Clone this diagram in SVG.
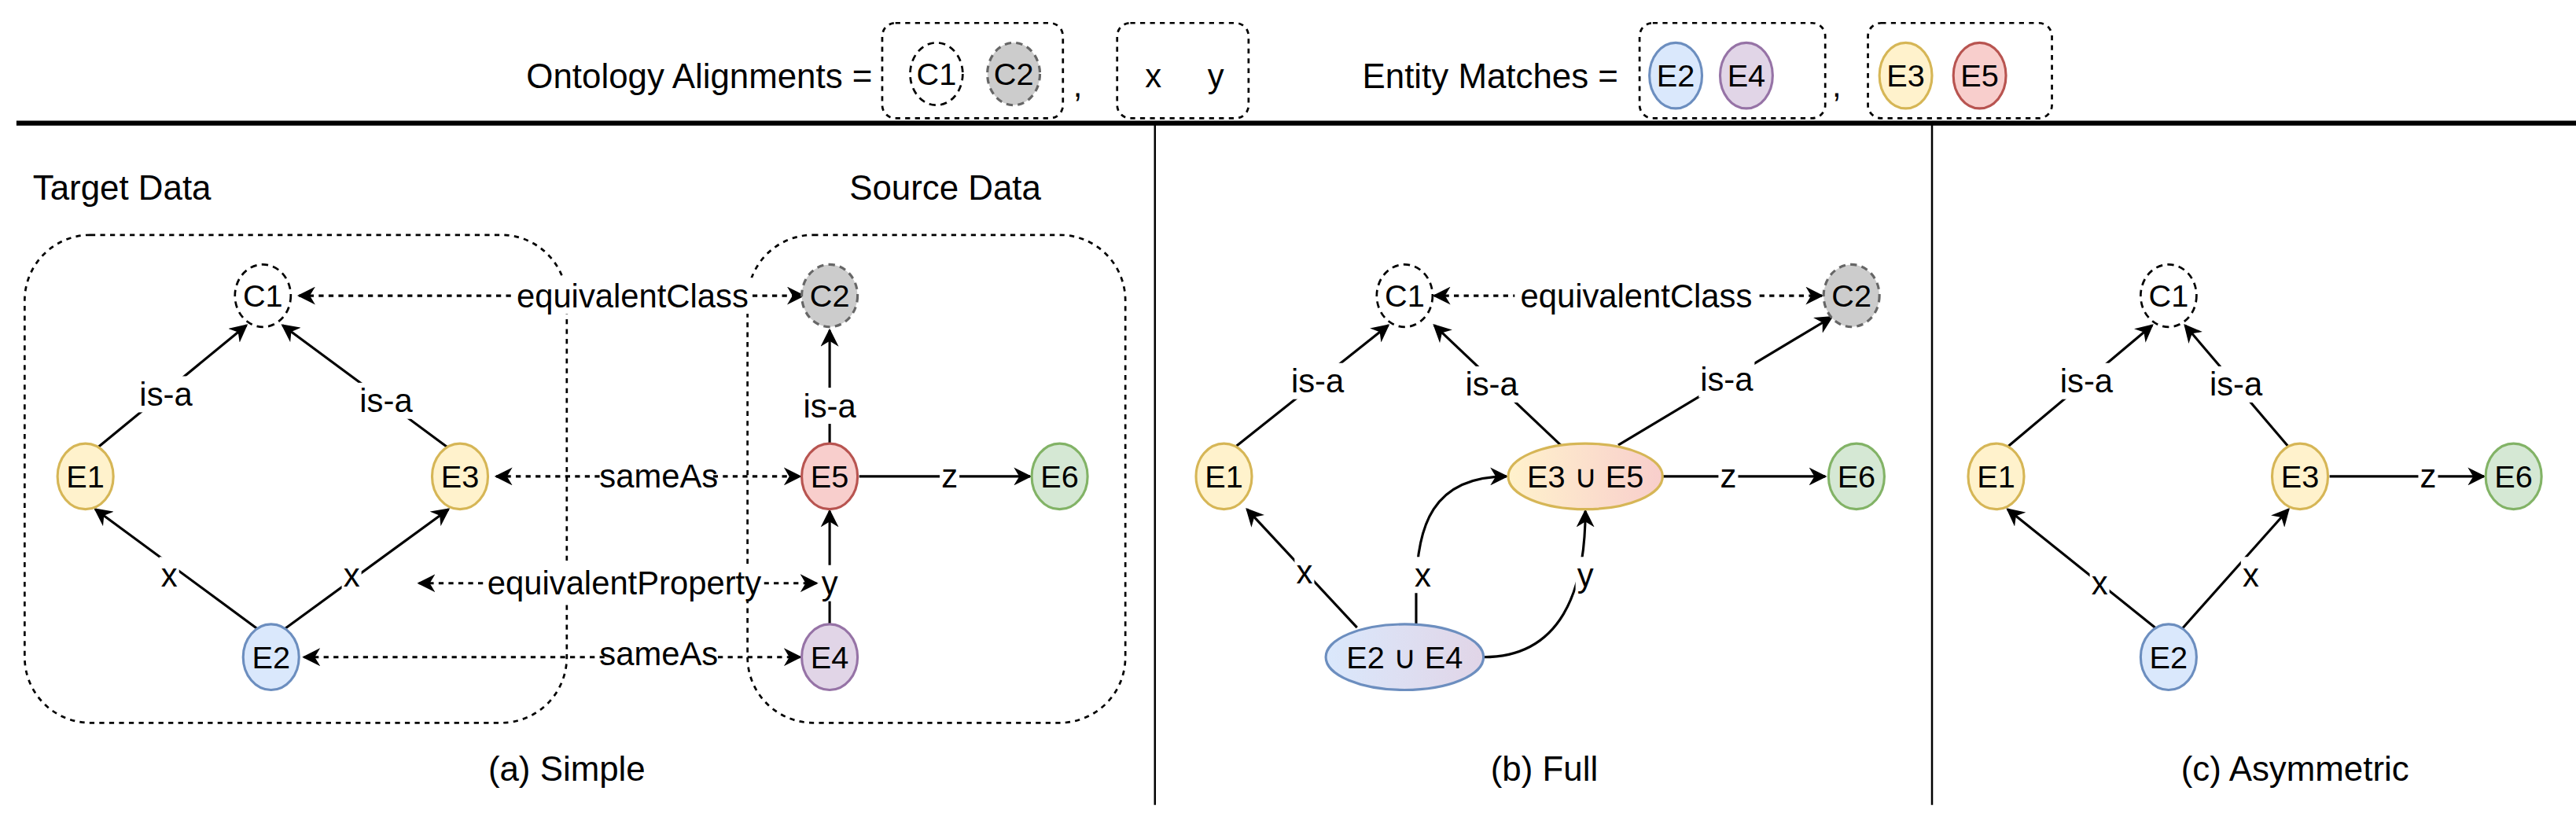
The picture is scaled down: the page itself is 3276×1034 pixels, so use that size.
<svg xmlns="http://www.w3.org/2000/svg" width="3276" height="1034" viewBox="0 0 3276 1034">
<defs>
<marker id="ah" viewBox="0 0 10 10" refX="9" refY="5" markerWidth="11" markerHeight="11" markerUnits="userSpaceOnUse" orient="auto-start-reverse"><path d="M0,0 L10,5 L0,10 L3,5 Z" fill="#000"/></marker>
<linearGradient id="g35" x1="0" x2="1"><stop offset="0" stop-color="#fff2cc"/><stop offset="1" stop-color="#f8cecc"/></linearGradient>
<linearGradient id="g24" x1="0" x2="1"><stop offset="0" stop-color="#dae8fc"/><stop offset="1" stop-color="#e1d5e7"/></linearGradient>
</defs>
<style>
text{font-family:"Liberation Sans",Arial,sans-serif;font-size:20px;fill:#000;text-anchor:middle;dominant-baseline:central}
.lt{text-anchor:start;font-size:21px}
.en{text-anchor:end;font-size:21px}
.cap{font-size:21px}
.n{font-size:19px}
.c1{fill:#fff;stroke:#000;stroke-width:1.3;stroke-dasharray:4 3}
.c2{fill:#ccc;stroke:#666;stroke-width:1.5;stroke-dasharray:4 3}
.y{fill:#fff2cc;stroke:#d6b656;stroke-width:1.5}
.b{fill:#dae8fc;stroke:#6c8ebf;stroke-width:1.5}
.p{fill:#e1d5e7;stroke:#9673a6;stroke-width:1.5}
.r{fill:#f8cecc;stroke:#b85450;stroke-width:1.5}
.g{fill:#d5e8d4;stroke:#82b366;stroke-width:1.5}
.box{fill:none;stroke:#000;stroke-width:1.3;stroke-dasharray:3 3}
.e{fill:none;stroke:#000;stroke-width:1.5;marker-end:url(#ah)}
.d{fill:none;stroke:#000;stroke-width:1.5;stroke-dasharray:3 3;marker-start:url(#ah);marker-end:url(#ah)}
.bg{fill:#fff}
</style>
<g transform="scale(2.0893)">
<g id="legend">
<text class="en" x="531" y="46">Ontology Alignments =</text>
<rect class="box" x="537" y="14" width="110" height="58" rx="8"/>
<ellipse class="c1" cx="570" cy="45" rx="16" ry="19"/><text class="n" x="570" y="45">C1</text>
<ellipse class="c2" cx="617" cy="45" rx="16" ry="19"/><text class="n" x="617" y="45" fill="#333">C2</text>
<text x="656" y="52">,</text>
<rect class="box" x="680" y="14" width="80" height="58" rx="8"/>
<text x="702" y="46">x</text><text x="740" y="46">y</text>
<text class="en" x="985" y="46">Entity Matches =</text>
<rect class="box" x="998" y="14" width="113" height="58" rx="8"/>
<ellipse class="b" cx="1020" cy="46" rx="16" ry="20"/><text class="n" x="1020" y="46">E2</text>
<ellipse class="p" cx="1063" cy="46" rx="16" ry="20"/><text class="n" x="1063" y="46">E4</text>
<text x="1118" y="52">,</text>
<rect class="box" x="1137" y="14" width="112" height="58" rx="8"/>
<ellipse class="y" cx="1160" cy="46" rx="16" ry="20"/><text class="n" x="1160" y="46">E3</text>
<ellipse class="r" cx="1205" cy="46" rx="16" ry="20"/><text class="n" x="1205" y="46">E5</text>
</g>
<g id="frame">
<line x1="10" y1="75" x2="1568" y2="75" stroke="#000" stroke-width="3"/>
<line x1="703" y1="75" x2="703" y2="490" stroke="#000" stroke-width="1.2"/>
<line x1="1176" y1="75" x2="1176" y2="490" stroke="#000" stroke-width="1.2"/>
<text class="cap" x="345" y="468">(a) Simple</text>
<text class="cap" x="940" y="468">(b) Full</text>
<text class="cap" x="1397" y="468">(c) Asymmetric</text>
<text class="lt" x="20" y="114">Target Data</text>
<text class="lt" x="517" y="114">Source Data</text>
<rect class="box" x="15" y="143" width="330" height="297" rx="40"/>
<rect class="box" x="455" y="143" width="230" height="297" rx="40"/>
</g>
<g id="connectors">
<!-- a -->
<line class="e" x1="60" y1="272" x2="150" y2="198"/>
<line class="e" x1="272" y1="272" x2="172" y2="198"/>
<line class="e" x1="157" y1="383" x2="58" y2="310"/>
<line class="e" x1="173" y1="383" x2="273" y2="310"/>
<line class="e" x1="505" y1="270" x2="505" y2="201"/>
<line class="e" x1="523" y1="290" x2="627" y2="290"/>
<line class="e" x1="505" y1="380" x2="505" y2="311"/>
<line class="d" x1="182" y1="180" x2="489" y2="180"/>
<line class="d" x1="302" y1="290" x2="487" y2="290"/>
<line class="d" x1="255" y1="355" x2="497" y2="355"/>
<line class="d" x1="185" y1="400" x2="487" y2="400"/>
<rect class="bg" x="84" y="229" width="34" height="22"/><text x="101" y="240">is-a</text>
<rect class="bg" x="218" y="233" width="34" height="22"/><text x="235" y="244">is-a</text>
<rect class="bg" x="97" y="339" width="12" height="22"/><text x="103" y="350">x</text>
<rect class="bg" x="208" y="339" width="12" height="22"/><text x="214" y="350">x</text>
<rect class="bg" x="488" y="236" width="34" height="22"/><text x="505" y="247">is-a</text>
<rect class="bg" x="572" y="279" width="12" height="22"/><text x="578" y="290">z</text>
<rect class="bg" x="499" y="344" width="12" height="22"/><text x="505" y="355">y</text>
<rect class="bg" x="312" y="169" width="146" height="22"/><text x="385" y="180">equivalentClass</text>
<rect class="bg" x="368" y="279" width="66" height="22"/><text x="401" y="290">sameAs</text>
<rect class="bg" x="295" y="344" width="170" height="22"/><text x="380" y="355">equivalentProperty</text>
<rect class="bg" x="368" y="388" width="66" height="22"/><text x="401" y="398">sameAs</text>
<!-- b -->
<line class="e" x1="752" y1="272" x2="845" y2="198"/>
<line class="e" x1="950" y1="271" x2="873" y2="198"/>
<line class="e" x1="985" y1="271" x2="1115" y2="193"/>
<line class="d" x1="873" y1="180" x2="1109" y2="180"/>
<line class="e" x1="1012" y1="290" x2="1111" y2="290"/>
<line class="e" x1="826" y1="382" x2="759" y2="310"/>
<path class="e" d="M862,381 L862,360 C862,320 872,290 917,290"/>
<path class="e" d="M903,400 C950,400 965,360 965,311"/>
<rect class="bg" x="785" y="221" width="34" height="22"/><text x="802" y="232">is-a</text>
<rect class="bg" x="891" y="223" width="34" height="22"/><text x="908" y="234">is-a</text>
<rect class="bg" x="1034" y="220" width="34" height="22"/><text x="1051" y="231">is-a</text>
<rect class="bg" x="922" y="169" width="148" height="22"/><text x="996" y="180">equivalentClass</text>
<rect class="bg" x="1046" y="279" width="12" height="22"/><text x="1052" y="290">z</text>
<rect class="bg" x="788" y="337" width="12" height="22"/><text x="794" y="348">x</text>
<rect class="bg" x="860" y="339" width="12" height="22"/><text x="866" y="350">x</text>
<rect class="bg" x="959" y="339" width="12" height="22"/><text x="965" y="350">y</text>
<!-- c -->
<line class="e" x1="1222" y1="272" x2="1310" y2="198"/>
<line class="e" x1="1393" y1="272" x2="1330" y2="198"/>
<line class="e" x1="1418" y1="290" x2="1512" y2="290"/>
<line class="e" x1="1313" y1="383" x2="1222" y2="310"/>
<line class="e" x1="1328" y1="383" x2="1393" y2="310"/>
<rect class="bg" x="1253" y="221" width="34" height="22"/><text x="1270" y="232">is-a</text>
<rect class="bg" x="1344" y="223" width="34" height="22"/><text x="1361" y="234">is-a</text>
<rect class="bg" x="1472" y="279" width="12" height="22"/><text x="1478" y="290">z</text>
<rect class="bg" x="1272" y="344" width="12" height="22"/><text x="1278" y="355">x</text>
<rect class="bg" x="1364" y="339" width="12" height="22"/><text x="1370" y="350">x</text>
</g>
<g id="a-C1"><ellipse class="c1" cx="160" cy="180" rx="17" ry="19"/><text class="n" x="160" y="180">C1</text></g>
<g id="a-C2"><ellipse class="c2" cx="505" cy="180" rx="17" ry="19"/><text class="n" x="505" y="180" fill="#333">C2</text></g>
<g id="a-E1"><ellipse class="y" cx="52" cy="290" rx="17" ry="20"/><text class="n" x="52" y="290">E1</text></g>
<g id="a-E3"><ellipse class="y" cx="280" cy="290" rx="17" ry="20"/><text class="n" x="280" y="290">E3</text></g>
<g id="a-E5"><ellipse class="r" cx="505" cy="290" rx="17" ry="20"/><text class="n" x="505" y="290">E5</text></g>
<g id="a-E6"><ellipse class="g" cx="645" cy="290" rx="17" ry="20"/><text class="n" x="645" y="290">E6</text></g>
<g id="a-E2"><ellipse class="b" cx="165" cy="400" rx="17" ry="20"/><text class="n" x="165" y="400">E2</text></g>
<g id="a-E4"><ellipse class="p" cx="505" cy="400" rx="17" ry="20"/><text class="n" x="505" y="400">E4</text></g>
<g id="b-C1"><ellipse class="c1" cx="855" cy="180" rx="17" ry="19"/><text class="n" x="855" y="180">C1</text></g>
<g id="b-C2"><ellipse class="c2" cx="1127" cy="180" rx="17" ry="19"/><text class="n" x="1127" y="180" fill="#333">C2</text></g>
<g id="b-E1"><ellipse class="y" cx="745" cy="290" rx="17" ry="20"/><text class="n" x="745" y="290">E1</text></g>
<g id="b-E35"><ellipse cx="965" cy="290" rx="47" ry="20" fill="url(#g35)" stroke="#d6b656" stroke-width="1.5"/><text class="n" x="965" y="290">E3 ∪ E5</text></g>
<g id="b-E6"><ellipse class="g" cx="1130" cy="290" rx="17" ry="20"/><text class="n" x="1130" y="290">E6</text></g>
<g id="b-E24"><ellipse cx="855" cy="400" rx="48" ry="20" fill="url(#g24)" stroke="#6c8ebf" stroke-width="1.5"/><text class="n" x="855" y="400">E2 ∪ E4</text></g>
<g id="c-C1"><ellipse class="c1" cx="1320" cy="180" rx="17" ry="19"/><text class="n" x="1320" y="180">C1</text></g>
<g id="c-E1"><ellipse class="y" cx="1215" cy="290" rx="17" ry="20"/><text class="n" x="1215" y="290">E1</text></g>
<g id="c-E3"><ellipse class="y" cx="1400" cy="290" rx="17" ry="20"/><text class="n" x="1400" y="290">E3</text></g>
<g id="c-E6"><ellipse class="g" cx="1530" cy="290" rx="17" ry="20"/><text class="n" x="1530" y="290">E6</text></g>
<g id="c-E2"><ellipse class="b" cx="1320" cy="400" rx="17" ry="20"/><text class="n" x="1320" y="400">E2</text></g>
</g>
</svg>
